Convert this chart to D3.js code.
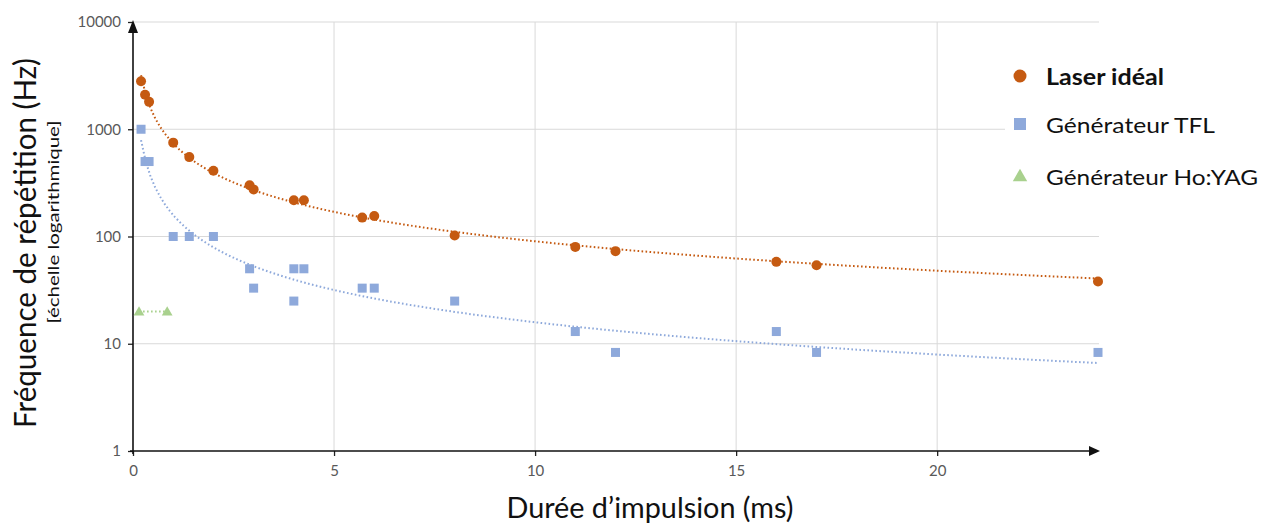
<!DOCTYPE html>
<html><head><meta charset="utf-8">
<script src="https://cdn.jsdelivr.net/npm/d3@7"></script>
<style>html,body{margin:0;padding:0;background:#fff;}svg{display:block;}</style>
</head><body>
<svg id="c" width="1274" height="524"></svg>
<script>
// ---- data ----
const laserX = [0.2, 0.3, 0.4, 1.0, 1.4, 2.0, 2.9, 3.0, 4.0, 4.25, 5.7, 6.0, 8.0, 11, 12, 16, 17, 24];
const laserY = [2800, 2100, 1800, 750, 550, 410, 300, 275, 218, 218, 150, 155, 102, 80, 73, 58, 54, 38];
const tflX = [0.2, 0.3, 0.4, 1.0, 1.4, 2.0, 2.9, 3.0, 4.0, 4.25, 4.0, 5.7, 6.0, 8.0, 11, 12, 16, 17, 24];
const tflY = [1000, 500, 500, 100, 100, 100, 50, 33, 50, 50, 25, 33, 33, 25, 13, 8.3, 13, 8.3, 8.3];
const hoX = [0.15, 0.85];
const hoY = [20, 20];
const xTicks = [0, 5, 10, 15, 20];
const yTicks = [1, 10, 100, 1000, 10000];
const seriesNames = ["Laser idéal", "Générateur TFL", "Générateur Ho:YAG"];
const colors = ["#C55A11", "#8EA9DB", "#A9D18E"];

const svg = d3.select("#c");
const L = 133, R = 1098, T = 22, B = 451;
const x = d3.scaleLinear().domain([0, 24]).range([L, R]);
const y = d3.scaleLog().domain([1, 10000]).range([B, T]);
const FONT = "Lato, 'Open Sans', sans-serif";

// gridlines
const g = svg.append("g");
g.selectAll("line.h").data(yTicks.filter(d => d > 1)).enter().append("line")
  .attr("x1", L).attr("x2", R + 1).attr("y1", d => y(d)).attr("y2", d => y(d))
  .attr("stroke", "#d9d9d9").attr("stroke-width", 1);
g.selectAll("line.v").data(xTicks.filter(d => d > 0)).enter().append("line")
  .attr("x1", d => x(d)).attr("x2", d => x(d)).attr("y1", T).attr("y2", B)
  .attr("stroke", "#d9d9d9").attr("stroke-width", 1);

// axes
const xAxis = d3.axisBottom(x).tickValues(xTicks).tickSize(5).tickFormat(d3.format("d"));
const yAxis = d3.axisLeft(y).tickValues(yTicks).tickSize(5).tickFormat(d3.format("d"));
const gx = svg.append("g").attr("transform", `translate(0,${B})`).call(xAxis);
const gy = svg.append("g").attr("transform", `translate(${L},0)`).call(yAxis);
[gx, gy].forEach(a => {
  a.select(".domain").remove();
  a.selectAll(".tick line").attr("stroke", "#222").attr("stroke-width", 1.3);
  a.selectAll(".tick text").attr("fill", "#595959").attr("font-family", FONT).attr("font-size", 15);
});
gx.selectAll(".tick text").attr("dy", "0").attr("y", 25);
gy.selectAll(".tick text").attr("x", -12);

// axis lines with arrows
svg.append("line").attr("x1", L).attr("x2", L).attr("y1", B + 3).attr("y2", T + 10)
  .attr("stroke", "#111").attr("stroke-width", 1.6);
svg.append("path").attr("d", `M${L},${T - 2} L${L - 5},${T + 11} L${L + 5},${T + 11} Z`).attr("fill", "#111");
svg.append("line").attr("x1", L - 3).attr("x2", R - 8).attr("y1", B).attr("y2", B)
  .attr("stroke", "#111").attr("stroke-width", 1.6);
svg.append("path").attr("d", `M${R + 2},${B} L${R - 9},${B - 5} L${R - 9},${B + 5} Z`).attr("fill", "#111");

// power trendline fit (least squares in log-log, like a spreadsheet power trendline)
function powerFit(xs, ys) {
  const lx = xs.map(Math.log), ly = ys.map(Math.log);
  const mx = d3.mean(lx), my = d3.mean(ly);
  let num = 0, den = 0;
  lx.forEach((v, i) => { num += (v - mx) * (ly[i] - my); den += (v - mx) * (v - mx); });
  const b = den === 0 ? 0 : num / den;
  const a = Math.exp(my - b * mx);
  const [x0, x1] = d3.extent(xs);
  const pts = d3.range(0, 201).map(i => x0 + (x1 - x0) * i / 200);
  return pts.map(v => [v, a * Math.pow(v, b)]);
}
const line = d3.line().x(d => x(d[0])).y(d => y(d[1]));
const sets = [[laserX, laserY], [tflX, tflY], [hoX, hoY]];
sets.forEach((s, i) => {
  svg.append("path").attr("d", line(powerFit(s[0], s[1])))
    .attr("fill", "none").attr("stroke", colors[i]).attr("stroke-width", 2)
    .attr("stroke-dasharray", "1.6,2.4");
});

// markers
svg.append("g").selectAll("rect").data(tflX.map((v, i) => [v, tflY[i]])).enter().append("rect")
  .attr("x", d => x(d[0]) - 4.5).attr("y", d => y(d[1]) - 4.5).attr("width", 9).attr("height", 9)
  .attr("fill", colors[1]);
svg.append("g").selectAll("path").data(hoX.map((v, i) => [v, hoY[i]])).enter().append("path")
  .attr("d", d3.symbol().type(d3.symbolTriangle).size(50))
  .attr("transform", d => `translate(${x(d[0])},${y(d[1]) + 1})`)
  .attr("fill", colors[2]);
svg.append("g").selectAll("circle").data(laserX.map((v, i) => [v, laserY[i]])).enter().append("circle")
  .attr("cx", d => x(d[0])).attr("cy", d => y(d[1])).attr("r", 5)
  .attr("fill", colors[0]);

// legend
svg.append("rect").attr("x", 1005).attr("y", 50).attr("width", 269).attr("height", 150).attr("fill", "#fff");
const lg = svg.append("g");
const legY = [76, 124, 176];
const legW = [118, 169, 212];
lg.append("circle").attr("cx", 1020).attr("cy", legY[0]).attr("r", 6.5).attr("fill", colors[0]);
lg.append("rect").attr("x", 1014).attr("y", legY[1] - 6).attr("width", 12).attr("height", 12).attr("fill", colors[1]);
lg.append("path").attr("d", d3.symbol().type(d3.symbolTriangle).size(90))
  .attr("transform", `translate(1020,${legY[2] + 1})`).attr("fill", colors[2]);
seriesNames.forEach((n, i) => {
  lg.append("text").attr("x", 1046).attr("y", legY[i] + 9).text(n)
    .attr("font-family", FONT).attr("font-size", 22)
    .attr("font-weight", i === 0 ? 700 : 400).attr("fill", "#111")
    .attr("textLength", legW[i]).attr("lengthAdjust", "spacingAndGlyphs");
});

// axis titles
svg.append("text").attr("x", 650).attr("y", 518).attr("text-anchor", "middle")
  .text("Durée d’impulsion (ms)").attr("font-family", FONT).attr("font-size", 29).attr("fill", "#111")
  .attr("textLength", 287).attr("lengthAdjust", "spacingAndGlyphs");
svg.append("text").attr("transform", "translate(36,243) rotate(-90)").attr("text-anchor", "middle")
  .text("Fréquence de répétition (Hz)").attr("font-family", FONT).attr("font-size", 30).attr("fill", "#111")
  .attr("textLength", 370).attr("lengthAdjust", "spacingAndGlyphs");
svg.append("text").attr("transform", "translate(59,222) rotate(-90)").attr("text-anchor", "middle")
  .text("[échelle logarithmique]").attr("font-family", FONT).attr("font-size", 15).attr("fill", "#111")
  .attr("textLength", 203).attr("lengthAdjust", "spacingAndGlyphs");
</script>
</body></html>
